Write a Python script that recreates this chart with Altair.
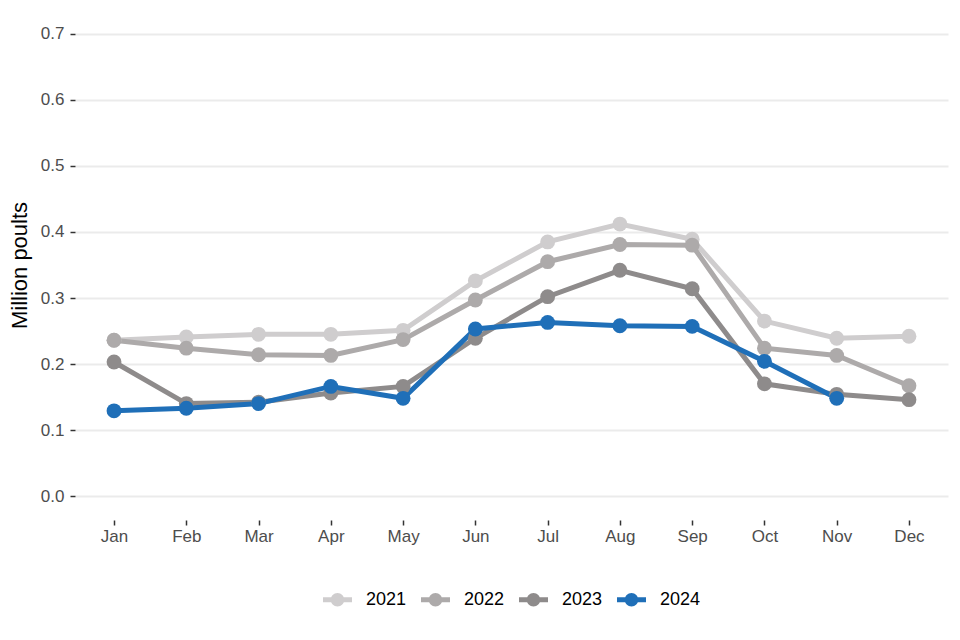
import altair as alt
import pandas as pd

months = ["Jan", "Feb", "Mar", "Apr", "May", "Jun", "Jul", "Aug", "Sep", "Oct", "Nov", "Dec"]
years = ["2021", "2022", "2023", "2024"]

v2021 = [0.236, 0.241, 0.245, 0.245, 0.251, 0.326, 0.385, 0.412, 0.389, 0.265, 0.239, 0.242]
v2022 = [0.236, 0.224, 0.214, 0.213, 0.237, 0.297, 0.355, 0.381, 0.380, 0.224, 0.213, 0.167]
v2023 = [0.203, 0.140, 0.142, 0.156, 0.166, 0.239, 0.302, 0.342, 0.314, 0.170, 0.154, 0.146]
v2024 = [0.129, 0.133, 0.140, 0.166, 0.148, 0.253, 0.263, 0.258, 0.257, 0.204, 0.148]

colors = ["#cfcdce", "#adaaaa", "#8e8b8b", "#1f6fb8"]
y_ticks = [0.0, 0.1, 0.2, 0.3, 0.4, 0.5, 0.6, 0.7]

rows = []
for yr, vals in zip(years, [v2021, v2022, v2023, v2024]):
    for m, v in zip(months, vals):
        rows.append({"month": m, "year": yr, "value": v})
df = pd.DataFrame(rows)

legend_path = ("M-1,-0.17L1,-0.17L1,0.17L-1,0.17Z "
               "M-0.466,0A0.466,0.466,0,1,1,0.466,0A0.466,0.466,0,1,1,-0.466,0Z")

x_enc = alt.X(
    "month:N", sort=months,
    scale=alt.Scale(type="point", padding=0.54),
    axis=alt.Axis(title=None, labelAngle=0, grid=False, domain=False,
                  tickSize=5, tickColor="#333333", tickWidth=1.5,
                  labelPadding=3, labelFontSize=17, labelColor="#4d4d4d",
                  labelFont="Liberation Sans"),
)
y_enc = alt.Y(
    "value:Q",
    scale=alt.Scale(domain=[-0.03636, 0.73636], nice=False, zero=False),
    axis=alt.Axis(title="Million poults", values=y_ticks, format=".1f",
                  domain=False, grid=True, gridColor="#ebebeb", gridWidth=2,
                  tickSize=5, tickColor="#333333", tickWidth=1.5,
                  labelPadding=6, labelFontSize=17, labelColor="#4d4d4d",
                  labelFont="Liberation Sans",
                  titleFont="Liberation Sans", titleFontSize=22,
                  titleFontWeight="normal", titleColor="#000000",
                  titlePadding=9),
)
color_enc = alt.Color(
    "year:N",
    scale=alt.Scale(domain=years, range=colors),
    legend=alt.Legend(title=None, orient="none", direction="horizontal",
                      legendX=248, legendY=575,
                      symbolType=legend_path, symbolSize=841,
                      symbolStrokeWidth=0, symbolOpacity=1,
                      labelFontSize=18, labelFont="Liberation Sans",
                      labelColor="#000000", labelOffset=14,
                      columnPadding=14),
)

lines = alt.Chart(df).mark_line(strokeWidth=5).encode(
    x=x_enc, y=y_enc, color=color_enc,
    order=alt.Order("year:N"),
)
points = alt.Chart(df).mark_circle(size=220, opacity=1).encode(
    x=x_enc, y=y_enc, color=color_enc,
    order=alt.Order("year:N"),
)

chart = alt.layer(lines, points).properties(
    width=873, height=510,
    padding={"left": 67, "top": 2, "right": 2, "bottom": 110},
    autosize=alt.AutoSizeParams(type="none"),
).configure_view(stroke=None).configure_axis(labelFont="Liberation Sans")

chart.save("out.html", embed_options={"renderer": "svg", "actions": False})
